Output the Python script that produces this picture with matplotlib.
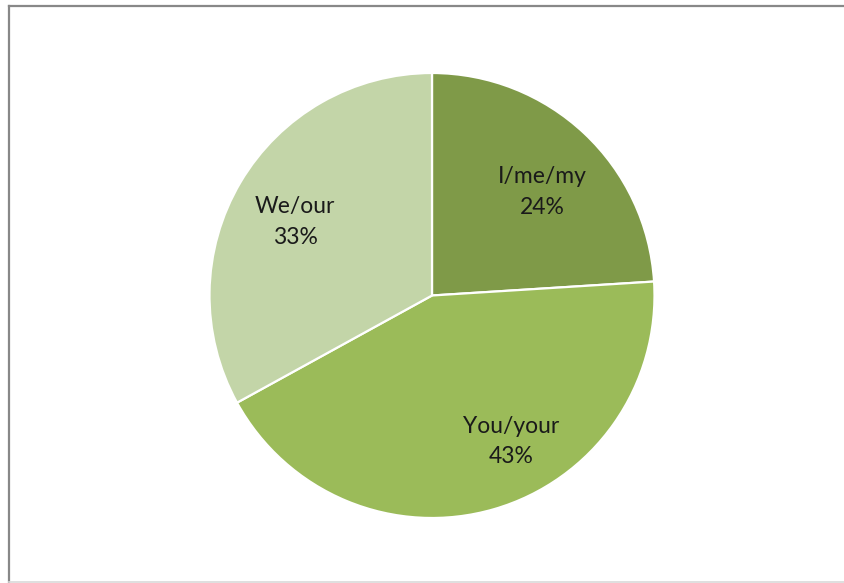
import matplotlib
matplotlib.use("Agg")
import matplotlib.pyplot as plt
from matplotlib.lines import Line2D

categories = ["I/me/my", "You/your", "We/our"]
shares = [24, 43, 33]
colors = ["#7f9a48", "#9bbb59", "#c3d5a8"]
# label anchor points in axes data units (pie radius = 1)
label_pos = [(0.495, 0.465), (0.355, -0.655), (-0.615, 0.33)]

W, H = 844, 583
fig = plt.figure(figsize=(W / 100, H / 100), dpi=100)
fig.patch.set_facecolor("white")

cx, cy, r = 432, 295.5, 222.5
ax = fig.add_axes([(cx - r) / W, (H - cy - r) / H, 2 * r / W, 2 * r / H])

wedges, _ = ax.pie(
    shares,
    colors=colors,
    startangle=90,
    counterclock=False,
    radius=1,
    wedgeprops=dict(edgecolor="white", linewidth=1.6),
)
ax.set_xlim(-1, 1)
ax.set_ylim(-1, 1)
ax.set_aspect("equal")
ax.axis("off")

for name, val, (x, y) in zip(categories, shares, label_pos):
    ax.text(x, y, f"{name}\n{val}%", ha="center", va="center",
            fontsize=16.5, family="Lato", color="#1a1a1a", linespacing=1.55)

# chart frame
fig.add_artist(Line2D([8.5 / W, 1], [1 - 5.5 / H, 1 - 5.5 / H],
                      transform=fig.transFigure, color="#888888", lw=1.6))
fig.add_artist(Line2D([8.5 / W, 8.5 / W], [0, 1 - 5.5 / H],
                      transform=fig.transFigure, color="#888888", lw=1.6))
fig.add_artist(Line2D([8.5 / W, 1], [1.5 / H, 1.5 / H],
                      transform=fig.transFigure, color="#d9d9d9", lw=1.2))

fig.savefig("out.png", dpi=100, facecolor="white")
